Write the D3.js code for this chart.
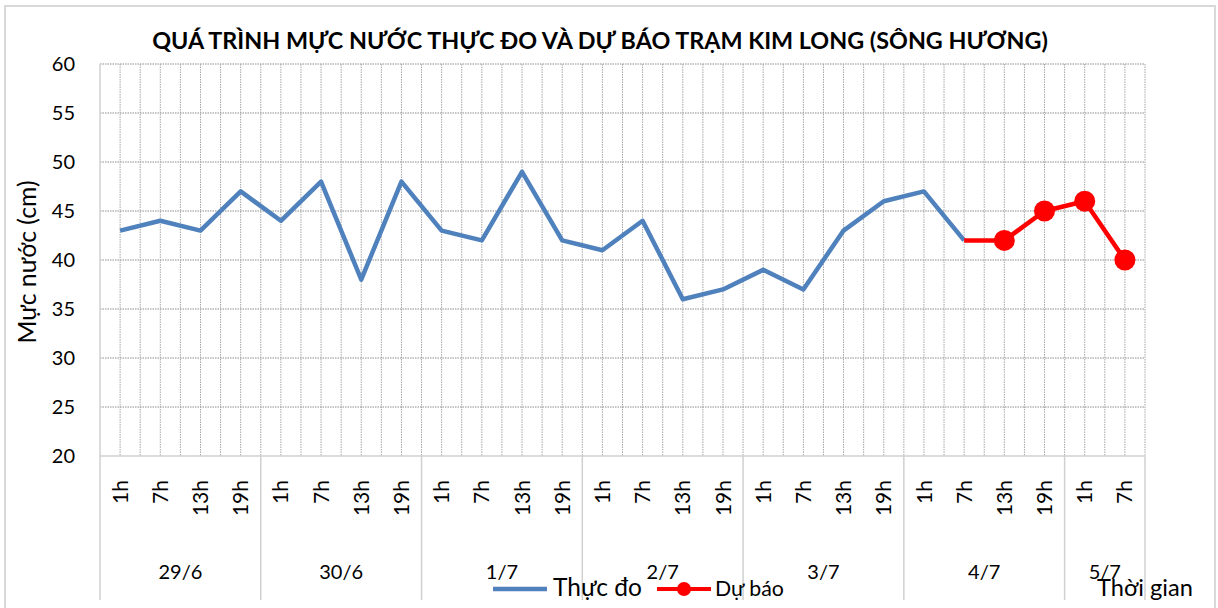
<!DOCTYPE html>
<html>
<head>
<meta charset="utf-8">
<script src="https://cdn.jsdelivr.net/npm/d3@7"></script>
<style>
  body { margin: 0; background: #fff; }
  svg { display: block; font-family: Lato, "Open Sans", sans-serif; }
</style>
</head>
<body>
<div id="main"></div>
<script>
// days on the axis and how many hour slots each one has
var days = ['29/6', '30/6', '1/7', '2/7', '3/7', '4/7', '5/7'];
var slotsPerDay = [4, 4, 4, 4, 4, 4, 2];
var hourLabels = ['1h', '7h', '13h', '19h'];

// water level (cm)
var measured = [43, 44, 43, 47, 44, 48, 38, 48, 43, 42, 49, 42,
                41, 44, 36, 37, 39, 37, 43, 46, 47, 42];
var forecast = [null, null, null, null, null, null, null, null, null, null, null,
                null, null, null, null, null, null, null, null, null, null,
                42, 42, 45, 46, 40];
var yTicks = [20, 25, 30, 35, 40, 45, 50, 55, 60];

var titleText = 'QUÁ TRÌNH MỰC NƯỚC THỰC ĐO VÀ DỰ BÁO TRẠM KIM LONG (SÔNG HƯƠNG)';

var categories = [];
days.forEach(function(d, i) {
  for (var k = 0; k < slotsPerDay[i]; k++) {
    categories.push({ day: d, hour: hourLabels[k], id: d + ' ' + hourLabels[k] });
  }
});

var width = 1218, height = 608;
var plotLeft = 100, plotRight = 1145, plotTop = 64, plotBottom = 456;

var svg = d3.select('#main')
  .append('svg')
  .attr('width', width)
  .attr('height', height);

// chart border
svg.append('rect')
  .attr('x', 5).attr('y', 6)
  .attr('width', 1210).attr('height', 610)
  .attr('fill', '#fff')
  .attr('stroke', '#d9d9d9')
  .attr('stroke-width', 2);

var x = d3.scaleBand()
  .domain(categories.map(function(d) { return d.id; }))
  .range([plotLeft, plotRight])
  .padding(0);

var y = d3.scaleLinear()
  .domain([20, 60])
  .range([plotBottom, plotTop]);

function cx(i) { return x(categories[i].id) + x.bandwidth() / 2; }

// horizontal gridlines
svg.append('g')
  .selectAll('line')
  .data(yTicks.filter(function(v) { return v > 20; }))
  .enter()
  .append('line')
  .attr('x1', plotLeft).attr('x2', plotRight)
  .attr('y1', function(d) { return y(d); })
  .attr('y2', function(d) { return y(d); })
  .attr('stroke', '#8c8c8c')
  .attr('stroke-width', 1)
  .attr('stroke-dasharray', '1.5,1');

// vertical gridlines, every half slot
var half = d3.range(1, categories.length * 2 + 1);
svg.append('g')
  .selectAll('line')
  .data(half)
  .enter()
  .append('line')
  .attr('x1', function(d) { return plotLeft + d * x.step() / 2; })
  .attr('x2', function(d) { return plotLeft + d * x.step() / 2; })
  .attr('y1', plotTop).attr('y2', plotBottom)
  .attr('stroke', '#a6a6a6')
  .attr('stroke-width', 1)
  .attr('stroke-dasharray', '1.5,1');

// axes lines
svg.append('line')
  .attr('x1', plotLeft).attr('x2', plotLeft)
  .attr('y1', plotTop).attr('y2', 600)
  .attr('stroke', '#d0d0d0').attr('stroke-width', 1.5);
svg.append('line')
  .attr('x1', plotLeft).attr('x2', plotRight)
  .attr('y1', plotBottom).attr('y2', plotBottom)
  .attr('stroke', '#d0d0d0').attr('stroke-width', 1.5);

// day separators below axis
var bounds = [];
var acc = 0;
slotsPerDay.forEach(function(n) { acc += n; bounds.push(acc); });
svg.append('g')
  .selectAll('line')
  .data(bounds)
  .enter()
  .append('line')
  .attr('x1', function(d) { return plotLeft + d * x.step(); })
  .attr('x2', function(d) { return plotLeft + d * x.step(); })
  .attr('y1', plotBottom).attr('y2', 600)
  .attr('stroke', '#d0d0d0').attr('stroke-width', 1.5);

// y axis labels
var yAxis = d3.axisLeft(y).tickValues(yTicks).tickSize(0).tickPadding(0);
var yg = svg.append('g')
  .attr('transform', 'translate(75,0)')
  .call(yAxis);
yg.select('.domain').remove();
yg.selectAll('text')
  .attr('font-family', 'Lato, sans-serif')
  .attr('font-size', 20)
  .attr('fill', '#000');

// hour labels (rotated)
svg.append('g')
  .selectAll('text')
  .data(categories)
  .enter()
  .append('text')
  .attr('transform', function(d, i) { return 'translate(' + cx(i) + ',480) rotate(-90)'; })
  .attr('text-anchor', 'end')
  .attr('dy', '0.36em')
  .attr('font-size', 21)
  .text(function(d) { return d.hour; });

// day labels
var start = 0;
var dayPos = days.map(function(d, i) {
  var s = start;
  start += slotsPerDay[i];
  return { day: d, mid: plotLeft + (s + slotsPerDay[i] / 2) * x.step() };
});
svg.append('g')
  .selectAll('text')
  .data(dayPos)
  .enter()
  .append('text')
  .attr('x', function(d) { return d.mid; })
  .attr('y', 579)
  .attr('text-anchor', 'middle')
  .attr('font-size', 20)
  .text(function(d) { return d.day; });

// measured line
var line = d3.line()
  .defined(function(d) { return d != null; })
  .x(function(d, i) { return cx(i); })
  .y(function(d) { return y(d); });

svg.append('path')
  .datum(measured)
  .attr('d', line)
  .attr('fill', 'none')
  .attr('stroke', '#4f81bd')
  .attr('stroke-width', 4.5)
  .attr('stroke-linejoin', 'round');

svg.append('path')
  .datum(forecast)
  .attr('d', line)
  .attr('fill', 'none')
  .attr('stroke', '#ff0000')
  .attr('stroke-width', 4.5)
  .attr('stroke-linejoin', 'round');

var firstForecast = forecast.findIndex(function(d) { return d != null; });
svg.append('g')
  .selectAll('circle')
  .data(forecast.map(function(v, i) { return { v: v, i: i }; })
    .filter(function(d) { return d.v != null && d.i > firstForecast; }))
  .enter()
  .append('circle')
  .attr('cx', function(d) { return cx(d.i); })
  .attr('cy', function(d) { return y(d.v); })
  .attr('r', 10.5)
  .attr('fill', '#ff0000');

// fit text to a width
function fit(sel, w) {
  var len = sel.node().getComputedTextLength();
  var fs = parseFloat(sel.attr('font-size'));
  sel.attr('font-size', fs * w / len);
}

// title
var title = svg.append('text')
  .attr('x', 600)
  .attr('y', 49)
  .attr('text-anchor', 'middle')
  .attr('font-weight', 'bold')
  .attr('font-size', 22)
  .text(titleText);
fit(title, 896);

// y axis title
var yTitle = svg.append('text')
  .attr('transform', 'translate(36,262) rotate(-90)')
  .attr('text-anchor', 'middle')
  .attr('font-size', 22)
  .text('Mực nước (cm)');
fit(yTitle, 163);

// x axis title
var xTitle = svg.append('text')
  .attr('x', 1097)
  .attr('y', 596)
  .attr('font-size', 22)
  .text('Thời gian');
fit(xTitle, 96);

// legend
var lg = svg.append('g');
lg.append('line')
  .attr('x1', 493).attr('x2', 547)
  .attr('y1', 589).attr('y2', 589)
  .attr('stroke', '#4f81bd').attr('stroke-width', 4.5);
var t1 = lg.append('text')
  .attr('x', 553).attr('y', 596)
  .attr('font-size', 24)
  .text('Thực đo');
fit(t1, 89);
lg.append('line')
  .attr('x1', 657).attr('x2', 711)
  .attr('y1', 589).attr('y2', 589)
  .attr('stroke', '#ff0000').attr('stroke-width', 4);
lg.append('circle')
  .attr('cx', 684).attr('cy', 589)
  .attr('r', 7)
  .attr('fill', '#ff0000');
var t2 = lg.append('text')
  .attr('x', 715).attr('y', 596)
  .attr('font-size', 22)
  .text('Dự báo');
fit(t2, 69);
</script>
</body>
</html>
